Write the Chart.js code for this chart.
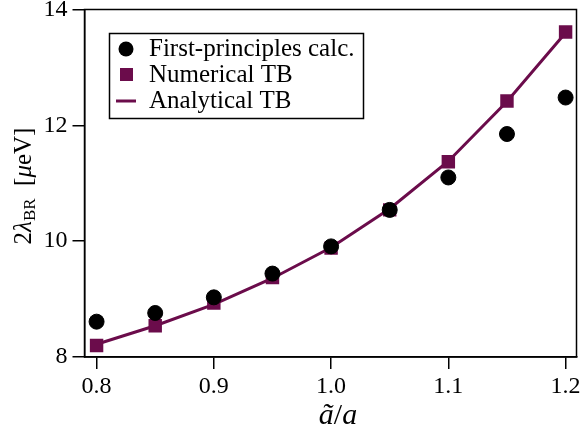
<!DOCTYPE html>
<html>
<head>
<meta charset="utf-8">
<script src="https://cdn.jsdelivr.net/npm/chart.js@4/dist/chart.umd.min.js"></script>
<style>
  html, body { margin: 0; padding: 0; background: #fff; }
  canvas { display: block; }
</style>
</head>
<body>
<canvas id="chart" width="586" height="429"></canvas>
<script>
// lattice ratio a~/a
const ratios = [0.8, 0.85, 0.9, 0.95, 1.0, 1.05, 1.1, 1.15, 1.2];
const firstPrinciples = [8.61, 8.76, 9.03, 9.44, 9.91, 10.54, 11.10, 11.85, 12.48];
const numericalTB = [8.20, 8.54, 8.93, 9.37, 9.88, 10.54, 11.37, 12.42, 13.61];
const analyticalTB = [8.22, 8.54, 8.91, 9.36, 9.89, 10.56, 11.38, 12.41, 13.60];
const xTicks = [0.8, 0.9, 1.0, 1.1, 1.2];
const yTicks = [8, 10, 12, 14];
const seriesLabels = ['First-principles calc.', 'Numerical TB', 'Analytical TB'];

const maroon = '#6b0c4b';
const serif = '"Liberation Serif", "DejaVu Serif", serif';

const toPoints = (ys) => ratios.map((x, i) => ({ x: x, y: ys[i] }));

// frame, axis titles and legend drawn on top
const decorations = {
    id: 'decorations',
    afterDraw(chart) {
        const ctx = chart.ctx;
        const area = chart.chartArea;
        ctx.save();

        // full box around plot
        ctx.strokeStyle = '#000';
        ctx.lineWidth = 1.5;
        ctx.strokeRect(area.left, area.top, area.right - area.left, area.bottom - area.top);

        // y title: 2λ_BR [μeV]
        ctx.save();
        ctx.translate(31, 186);
        ctx.rotate(-Math.PI / 2);
        ctx.fillStyle = '#000';
        ctx.textBaseline = 'alphabetic';
        const parts = [
            { t: '2', f: '25px ' + serif, dy: 0 },
            { t: 'λ', f: 'italic 25px ' + serif, dy: 0 },
            { t: 'BR', f: '17px ' + serif, dy: 4 },
            { t: '  [', f: '25px ' + serif, dy: 0 },
            { t: 'μ', f: 'italic 25px ' + serif, dy: 0 },
            { t: 'eV]', f: '25px ' + serif, dy: 0 }
        ];
        let total = 0;
        parts.forEach(p => { ctx.font = p.f; p.w = ctx.measureText(p.t).width; total += p.w; });
        let px = -total / 2;
        parts.forEach(p => { ctx.font = p.f; ctx.fillText(p.t, px, p.dy); px += p.w; });
        ctx.restore();

        // x title: ã/a
        const xparts = [
            { t: 'ã', f: 'italic 30px ' + serif },
            { t: '/', f: '30px ' + serif },
            { t: 'a', f: 'italic 30px ' + serif }
        ];
        let xw = 0;
        xparts.forEach(p => { ctx.font = p.f; p.w = ctx.measureText(p.t).width; xw += p.w; });
        let xx = 338 - xw / 2;
        ctx.fillStyle = '#000';
        xparts.forEach(p => { ctx.font = p.f; ctx.fillText(p.t, xx, 424); xx += p.w; });

        // legend
        const box = { left: 109.5, top: 33.5, right: 363.5, bottom: 118.5 };
        ctx.fillStyle = '#fff';
        ctx.fillRect(box.left, box.top, box.right - box.left, box.bottom - box.top);
        ctx.strokeStyle = '#000';
        ctx.lineWidth = 1.5;
        ctx.strokeRect(box.left, box.top, box.right - box.left, box.bottom - box.top);

        const rows = [56, 82, 108];
        ctx.font = '25px ' + serif;
        ctx.fillStyle = '#000';
        seriesLabels.forEach((label, i) => {
            ctx.fillText(label, 149, rows[i]);
        });
        // markers
        ctx.fillStyle = '#000';
        ctx.beginPath();
        ctx.arc(126, rows[0] - 7, 7.5, 0, Math.PI * 2);
        ctx.fill();
        ctx.fillStyle = maroon;
        ctx.fillRect(120, rows[1] - 14, 13, 13);
        ctx.strokeStyle = maroon;
        ctx.lineWidth = 3;
        ctx.beginPath();
        ctx.moveTo(116, rows[2] - 7);
        ctx.lineTo(136, rows[2] - 7);
        ctx.stroke();

        ctx.restore();
    }
};

new Chart(document.getElementById('chart').getContext('2d'), {
    type: 'scatter',
    data: {
        datasets: [
            {
                label: seriesLabels[0],
                data: toPoints(firstPrinciples),
                pointStyle: 'circle',
                pointRadius: 7.5,
                backgroundColor: '#000',
                borderColor: '#000',
                borderWidth: 1,
                showLine: false
            },
            {
                label: seriesLabels[1],
                data: toPoints(numericalTB),
                pointStyle: 'rect',
                pointRadius: 9.5,
                backgroundColor: maroon,
                borderColor: maroon,
                borderWidth: 0,
                showLine: false
            },
            {
                label: seriesLabels[2],
                data: toPoints(analyticalTB),
                pointRadius: 0,
                borderColor: maroon,
                borderWidth: 3,
                showLine: true,
                fill: false
            }
        ]
    },
    options: {
        responsive: false,
        animation: false,
        layout: { padding: { left: 0, right: 5, top: 9.5, bottom: 0 } },
        plugins: {
            legend: { display: false },
            tooltip: { enabled: false }
        },
        scales: {
            x: {
                type: 'linear',
                min: 0.7897,
                max: 1.2093,
                afterBuildTicks: (scale) => { scale.ticks = xTicks.map(v => ({ value: v })); },
                afterFit: (scale) => {
                    scale.height = 72;
                    scale.paddingLeft = 0;
                    scale.paddingRight = 0;
                },
                grid: {
                    drawOnChartArea: false,
                    drawTicks: true,
                    tickLength: 12,
                    color: '#000',
                    lineWidth: 1.5
                },
                border: { display: true, color: '#000', width: 1.5 },
                ticks: {
                    padding: 3,
                    color: '#000',
                    font: { family: serif, size: 24 },
                    callback: (v) => Number(v).toFixed(1)
                }
            },
            y: {
                min: 8,
                max: 14,
                afterBuildTicks: (scale) => { scale.ticks = yTicks.map(v => ({ value: v })); },
                afterFit: (scale) => {
                    scale.width = 84.5;
                    scale.paddingTop = 0;
                    scale.paddingBottom = 0;
                },
                grid: {
                    drawOnChartArea: false,
                    drawTicks: true,
                    tickLength: 12,
                    color: '#000',
                    lineWidth: 1.5
                },
                border: { display: true, color: '#000', width: 1.5 },
                ticks: {
                    padding: 5,
                    color: '#000',
                    font: { family: serif, size: 24 }
                }
            }
        }
    },
    plugins: [decorations]
});
</script>
</body>
</html>
